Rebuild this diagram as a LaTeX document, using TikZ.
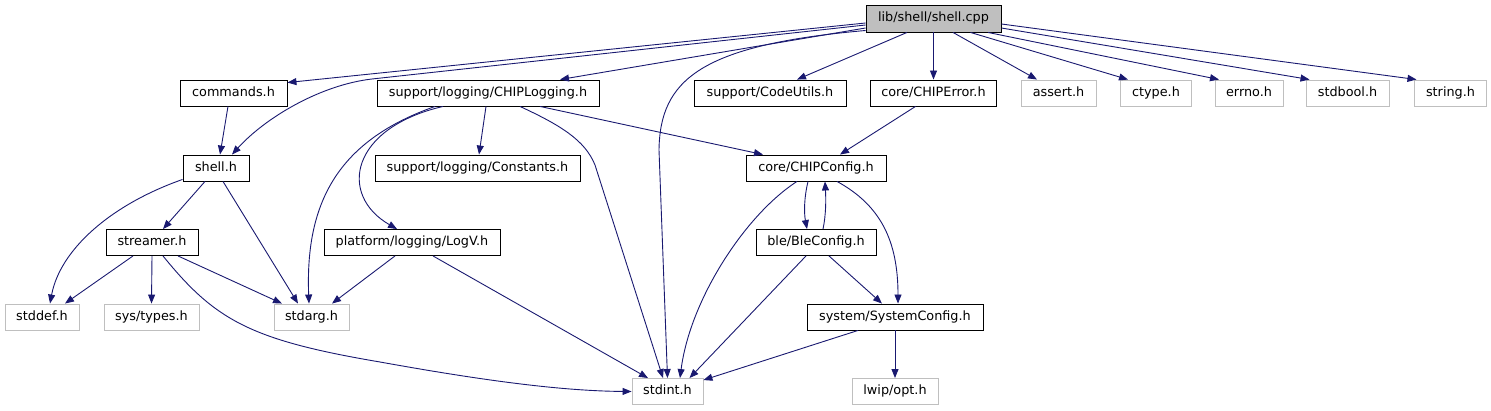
\documentclass[tikz,border=0pt]{standalone}
\usepackage{fontspec}
\setmainfont{DejaVu Sans}
\usetikzlibrary{arrows.meta}
\definecolor{midblue}{HTML}{191970}
\definecolor{greyline}{HTML}{BFBFBF}

\begin{document}
\begin{tikzpicture}[x=1pt, y=-1pt, >={Triangle[length=9pt,width=7pt]},
        filebox/.style={draw=black, line width=0.9pt, fill=white, minimum height=26pt,
            inner sep=0pt, text height=9.5pt, text depth=2.5pt, font=\fontsize{12.8}{15}\selectfont},
        sysbox/.style={filebox, draw=greyline},
        dep/.style={->, midblue, line width=0.9pt}]
        \useasboundingbox (0,0) rectangle (1491,411);

        % Root file
        \node[filebox, fill=greyline, minimum width=135pt, minimum height=27pt] (root) at (933.5,18.5) {lib/shell/shell.cpp};

        % Direct includes
        \node[filebox, minimum width=107pt] (commands) at (233.5,93) {commands.h};
        \node[filebox, minimum width=222pt] (chiplog) at (488,93) {support/logging/CHIPLogging.h};
        \node[filebox, minimum width=152pt] (codeutils) at (770,93) {support/CodeUtils.h};
        \node[filebox, minimum width=126pt] (chiperror) at (933.5,93) {core/CHIPError.h};
        \node[sysbox, minimum width=75pt] (assert) at (1058.5,93) {assert.h};
        \node[sysbox, minimum width=71pt] (ctype) at (1156,93) {ctype.h};
        \node[sysbox, minimum width=68pt] (errno) at (1249,93) {errno.h};
        \node[sysbox, minimum width=83pt] (stdbool) at (1347.5,93) {stdbool.h};
        \node[sysbox, minimum width=72pt] (string) at (1450.5,93) {string.h};

        % Second level
        \node[filebox, minimum width=66pt] (shellh) at (216,168) {shell.h};
        \node[filebox, minimum width=205pt] (constants) at (477.5,168) {support/logging/Constants.h};
        \node[filebox, minimum width=140pt] (chipconfig) at (816,168) {core/CHIPConfig.h};

        % Third level
        \node[filebox, minimum width=92pt] (streamer) at (152,242.5) {streamer.h};
        \node[filebox, minimum width=176pt] (logv) at (412,242.5) {platform/logging/LogV.h};
        \node[filebox, minimum width=120pt] (bleconfig) at (816,242.5) {ble/BleConfig.h};

        % Fourth level
        \node[sysbox, minimum width=74pt] (stddef) at (42,317) {stddef.h};
        \node[sysbox, minimum width=95pt] (systypes) at (151.5,317) {sys/types.h};
        \node[sysbox, minimum width=75pt] (stdarg) at (311.5,317) {stdarg.h};
        \node[filebox, minimum width=176pt] (sysconfig) at (895,317) {system/SystemConfig.h};

        % Bottom level
        \node[sysbox, minimum width=71pt] (stdint) at (667.5,391.5) {stdint.h};
        \node[sysbox, minimum width=86pt] (lwipopt) at (895,391.5) {lwip/opt.h};

        % Edges from lib/shell/shell.cpp
        \draw[dep] ([yshift=-4.5pt]root.west) -- ([yshift=-3pt]commands.north east);
        \draw[dep] ([yshift=-6.5pt]root.west) -- (372,79) .. controls (320,85) and (265,118) .. ([xshift=16pt]shellh.north);
        \draw[dep] ([yshift=-9.5pt]root.west) -- ([xshift=72pt]chiplog.north);
        \draw[dep] ([yshift=-12pt]root.west) .. controls (700,45) and (660,80) .. (659,150) -- (stdint.north);
        \draw[dep] ([xshift=-26.5pt]root.south) -- ([xshift=27pt]codeutils.north);
        \draw[dep] (root.south) -- (chiperror.north);
        \draw[dep] ([xshift=19.5pt]root.south) -- ([xshift=-21.5pt]assert.north);
        \draw[dep] ([xshift=37pt]root.south) -- ([xshift=-28pt]ctype.north);
        \draw[dep] ([xshift=54.5pt]root.south) -- ([xshift=-30pt]errno.north);
        \draw[dep] ([yshift=-9.5pt]root.east) -- ([xshift=-38pt]stdbool.north);
        \draw[dep] ([yshift=-5.5pt]root.east) -- ([xshift=-34pt]string.north);

        % commands.h and CHIPLogging.h
        \draw[dep] ([xshift=-5.5pt]commands.south) -- ([xshift=4pt]shellh.north);
        \draw[dep] ([xshift=-53pt]chiplog.south) .. controls (340,140) and (305,200) .. ([xshift=-2.5pt]stdarg.north);
        \draw[dep] ([xshift=-45pt]chiplog.south) .. controls (350,128) and (338,195) .. ([xshift=-15pt]logv.north);
        \draw[dep] ([xshift=-2pt]chiplog.south) -- ([xshift=1.5pt]constants.north);
        \draw[dep] ([xshift=32pt]chiplog.south) .. controls (560,125) and (585,140) .. (595,165) -- ([xshift=-4.5pt]stdint.north);
        \draw[dep] ([xshift=52pt]chiplog.south) -- ([xshift=-53pt]chipconfig.north);
        \draw[dep] ([xshift=-18pt]chiperror.south) -- ([xshift=24pt]chipconfig.north);

        % shell.h and streamer.h
        \draw[dep] ([yshift=2pt]shellh.south west) .. controls (110,205) and (60,250) .. ([xshift=8pt]stddef.north);
        \draw[dep] ([xshift=-11pt]shellh.south) -- ([xshift=11pt]streamer.north);
        \draw[dep] ([xshift=7pt]shellh.south) -- ([xshift=-13.5pt]stdarg.north);
        \draw[dep] ([xshift=-19pt]streamer.south) -- ([xshift=23pt]stddef.north);
        \draw[dep] (streamer.south) -- (systypes.north);
        \draw[dep] ([xshift=26pt]streamer.south) -- ([xshift=-29.5pt]stdarg.north);
        \draw[dep] ([xshift=11pt]streamer.south) .. controls (215,320) and (250,340) .. (380,362)
            .. controls (480,380) and (560,391) .. (stdint.west);

        % LogV.h
        \draw[dep] ([xshift=-17pt]logv.south) -- ([xshift=20.5pt]stdarg.north);
        \draw[dep] ([xshift=21pt]logv.south) -- ([xshift=-19.5pt]stdint.north);

        % CHIPConfig.h, BleConfig.h, SystemConfig.h
        \draw[dep] ([xshift=-19pt]chipconfig.south) .. controls (745,215) and (690,300) .. ([xshift=12.5pt]stdint.north);
        \draw[dep] ([xshift=-8pt]chipconfig.south) .. controls (804,198) and (804,213) .. ([xshift=-9pt]bleconfig.north);
        \draw[dep] ([xshift=21pt]chipconfig.south) .. controls (880,205) and (898,240) .. ([xshift=3pt]sysconfig.north);
        \draw[dep] ([xshift=7pt]bleconfig.north) .. controls (826,215) and (826,200) .. ([xshift=9pt]chipconfig.south);
        \draw[dep] ([xshift=-10pt]bleconfig.south) -- ([xshift=22pt]stdint.north);
        \draw[dep] ([xshift=13pt]bleconfig.south) -- ([xshift=-13pt]sysconfig.north);
        \draw[dep] ([xshift=-37pt]sysconfig.south) -- ([yshift=-2pt]stdint.north east);
        \draw[dep] (sysconfig.south) -- (lwipopt.north);
    \end{tikzpicture}
\end{document}
